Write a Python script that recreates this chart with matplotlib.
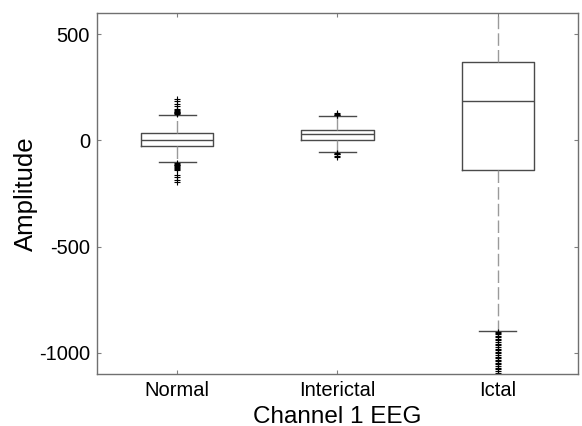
#!/usr/bin/env python3
import matplotlib
matplotlib.use('Agg')
import matplotlib.pyplot as plt

# boxplot stats (amplitude units)
groups = ['Normal', 'Interictal', 'Ictal']
medians = [3, 28, 186]
q1 = [-24, 3, -137]
q3 = [36, 51, 370]
whis_lo = [-103, -55, -896]
whis_hi = [120, 115, 750]   # Ictal whisker runs off the top of the axes

fliers_normal = [124, 127, 130, 133, 136, 140, 145, 150, 162, 172, 185, 196,
                 -106, -110, -114, -118, -122, -126, -130, -134, -137,
                 -161, -173, -186, -197]
fliers_interictal = [118, 121, 125, 131, -58, -62, -66, -72, -79]
fliers_ictal = [-900, -906, -912, -920, -928, -935, -942, -950, -957, -965,
                -972, -980, -988, -995, -1003, -1010, -1018, -1025, -1033,
                -1040, -1048, -1055, -1063, -1070, -1078, -1085, -1095]
fliers = [fliers_normal, fliers_interictal, fliers_ictal]

plt.rcParams['font.family'] = ['Liberation Sans', 'DejaVu Sans']
plt.rcParams['axes.unicode_minus'] = False

stats = []
for i in range(len(groups)):
    stats.append({'med': medians[i], 'q1': q1[i], 'q3': q3[i],
                  'whislo': whis_lo[i], 'whishi': whis_hi[i],
                  'fliers': fliers[i], 'label': groups[i]})

fig = plt.figure(figsize=(5.82, 4.26), dpi=100)
ax = fig.add_axes([0.1667, 0.122, 0.8263, 0.8475])

box_col = '#4a4a4a'
ax.bxp(stats, positions=[1, 2, 3], widths=0.45, capwidths=0.23,
       showfliers=True,
       boxprops=dict(color=box_col, linewidth=1.0),
       medianprops=dict(color=box_col, linewidth=1.0),
       whiskerprops=dict(color='#9a9a9a', linewidth=1.0, linestyle=(0, (9, 3))),
       capprops=dict(color=box_col, linewidth=1.0),
       flierprops=dict(marker='+', markersize=4, markeredgewidth=0.8,
                       markeredgecolor='black', linestyle='none'))

ax.set_xlim(0.5, 3.5)
ax.set_ylim(-1100, 600)
ax.set_yticks([-1000, -500, 0, 500])
ax.set_xticks([1, 2, 3])
ax.set_xticklabels(groups)

ax.tick_params(direction='in', length=3, width=0.8, color='#808080',
               top=True, right=True, labelsize=14.5, pad=5)
for s in ax.spines.values():
    s.set_color('#707070')
    s.set_linewidth(1.0)

ax.set_xlabel('Channel 1 EEG', fontsize=17.5, labelpad=4)
ax.set_ylabel('Amplitude', fontsize=18.5, labelpad=1)

fig.savefig('out.png', dpi=100)
